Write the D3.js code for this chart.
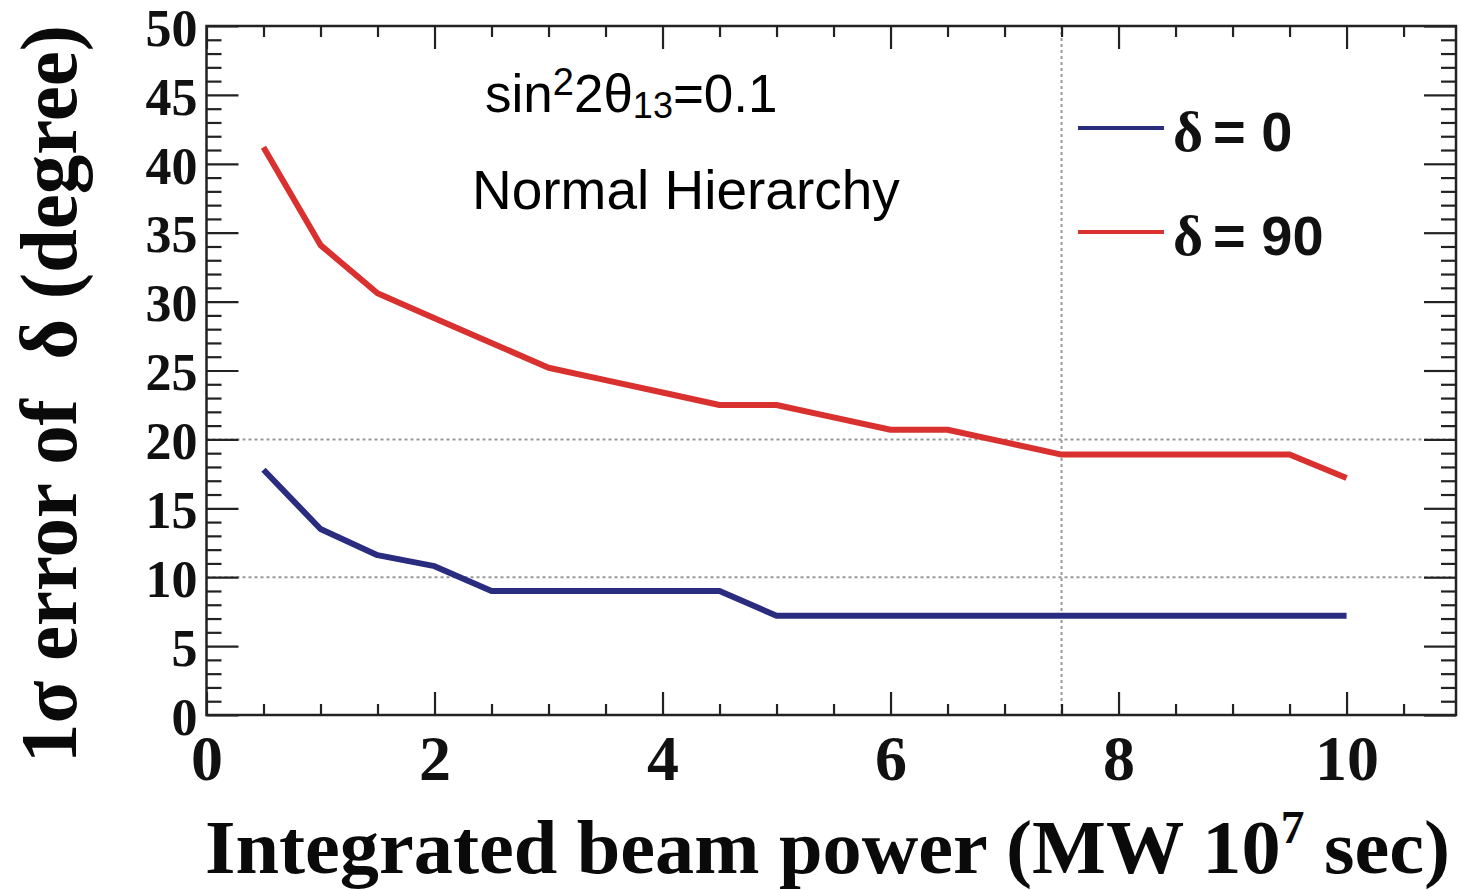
<!DOCTYPE html>
<html>
<head>
<meta charset="utf-8">
<script src="https://cdn.jsdelivr.net/npm/d3@7"></script>
<style>
  body { margin: 0; background: #fff; }
  .tick-label { font-family: "Liberation Serif", "Times New Roman", serif; font-weight: bold; fill: #111; }
  .grid { stroke: #9a9a9a; stroke-width: 2; stroke-dasharray: 3,3; }
</style>
</head>
<body>
<div id="chart"></div>
<script>
// beam power (MW 10^7 sec)
const power = [0.5, 1, 1.5, 2, 2.5, 3, 3.5, 4, 4.5, 5, 5.5, 6, 6.5, 7, 7.5, 8, 8.5, 9, 9.5, 10];
// 1 sigma error of delta (degree)
const errDelta0 = [17.8, 13.5, 11.6, 10.8, 9.0, 9.0, 9.0, 9.0, 9.0, 7.2, 7.2, 7.2, 7.2, 7.2, 7.2, 7.2, 7.2, 7.2, 7.2, 7.2];
const errDelta90 = [41.2, 34.1, 30.6, 28.8, 27.0, 25.2, 24.3, 23.4, 22.5, 22.5, 21.6, 20.7, 20.7, 19.8, 18.9, 18.9, 18.9, 18.9, 18.9, 17.2];

const seriesNames = ["0", "90"];
const seriesColors = ["#2a2c80", "#d8312f"];
const yMajorTicks = d3.range(0, 51, 5);
const xMajorTicks = [0, 2, 4, 6, 8, 10];

const W = 1461, H = 890;
const margin = { top: 26, right: 5, bottom: 175, left: 206.5 };
const width = W - margin.left - margin.right;
const height = H - margin.top - margin.bottom;

const svg = d3.select("#chart").append("svg")
  .attr("width", W)
  .attr("height", H);

const g = svg.append("g")
  .attr("transform", `translate(${margin.left},${margin.top})`);

const x = d3.scaleLinear().domain([0, 10.96]).range([0, width]);
const y = d3.scaleLinear().domain([0, 50]).range([height, 0]);

// dotted grid lines
[10, 20].forEach((v) => {
  g.append("line").attr("class", "grid")
    .attr("x1", 0).attr("x2", width)
    .attr("y1", y(v)).attr("y2", y(v));
});
g.append("line").attr("class", "grid")
  .attr("x1", x(7.5)).attr("x2", x(7.5))
  .attr("y1", 0).attr("y2", height);

// minor ticks
const yMinor = d3.range(0, 51, 1).filter((v) => v % 5 !== 0);
const xMinor = d3.range(0, 11, 0.5).filter((v) => v % 2 !== 0);

function styleAxis(sel) {
  sel.select(".domain").remove();
  sel.selectAll(".tick line").attr("stroke", "#222").attr("stroke-width", 2.2);
}

g.append("g").call(d3.axisLeft(y).tickValues(yMinor).tickSize(-15).tickFormat("")).call(styleAxis);
g.append("g").attr("transform", `translate(${width},0)`)
  .call(d3.axisRight(y).tickValues(yMinor).tickSize(-15).tickFormat("")).call(styleAxis);
g.append("g").attr("transform", `translate(0,${height})`)
  .call(d3.axisBottom(x).tickValues(xMinor).tickSize(-11).tickFormat("")).call(styleAxis);
g.append("g")
  .call(d3.axisTop(x).tickValues(xMinor).tickSize(-11).tickFormat("")).call(styleAxis);

// major ticks
const yAxis = g.append("g")
  .call(d3.axisLeft(y).tickValues(yMajorTicks).tickSize(-32).tickPadding(9))
  .call(styleAxis);
yAxis.selectAll("text").attr("class", "tick-label")
  .attr("dy", "0.37em")
  .style("font-size", "52px");

g.append("g").attr("transform", `translate(${width},0)`)
  .call(d3.axisRight(y).tickValues(yMajorTicks).tickSize(-32).tickFormat(""))
  .call(styleAxis);

const xAxis = g.append("g").attr("transform", `translate(0,${height})`)
  .call(d3.axisBottom(x).tickValues(xMajorTicks).tickSize(-23).tickPadding(20))
  .call(styleAxis);
xAxis.selectAll("text").attr("class", "tick-label").style("font-size", "64px");

g.append("g")
  .call(d3.axisTop(x).tickValues(xMajorTicks).tickSize(-23).tickFormat(""))
  .call(styleAxis);

// frame
g.append("rect")
  .attr("width", width).attr("height", height)
  .attr("fill", "none").attr("stroke", "#222").attr("stroke-width", 2.5);

// curves
const line = d3.line().x((d) => x(d[0])).y((d) => y(d[1]));
[errDelta0, errDelta90].forEach((vals, i) => {
  g.append("path")
    .datum(power.map((p, j) => [p, vals[j]]))
    .attr("d", line)
    .attr("fill", "none")
    .attr("stroke", seriesColors[i])
    .attr("stroke-width", 6)
    .attr("stroke-linejoin", "round");
});

// legend
const legend = svg.append("g");
seriesNames.forEach((name, i) => {
  const ly = 128 + i * 104;
  legend.append("line")
    .attr("x1", 1078).attr("x2", 1164)
    .attr("y1", ly).attr("y2", ly)
    .attr("stroke", seriesColors[i]).attr("stroke-width", 4);
  const t = legend.append("text")
    .attr("x", 1173).attr("y", ly + 23)
    .style("fill", "#111");
  t.append("tspan")
    .style("font-family", "'Liberation Serif', serif")
    .style("font-weight", "bold")
    .style("font-size", "58px")
    .text("δ");
  t.append("tspan")
    .style("font-family", "'Liberation Sans', Arial, sans-serif")
    .style("font-weight", "bold")
    .style("font-size", "56px")
    .text("= " + name)
    .attr("dx", 10);
});

// annotations
const ann = svg.append("text")
  .attr("x", 485).attr("y", 112)
  .style("font-family", "'Liberation Sans', Arial, sans-serif")
  .style("font-size", "53px")
  .style("fill", "#000");
ann.append("tspan").text("sin");
ann.append("tspan").attr("dy", -17).style("font-size", "38px").text("2");
ann.append("tspan").attr("dy", 17).text("2θ");
ann.append("tspan").attr("dy", 6).style("font-size", "36px").text("13");
ann.append("tspan").attr("dy", -6).text("=0.1");

svg.append("text")
  .attr("x", 472).attr("y", 209)
  .style("font-family", "'Liberation Sans', Arial, sans-serif")
  .style("font-size", "55px")
  .style("fill", "#000")
  .text("Normal Hierarchy");

// axis titles
const xTitle = svg.append("text")
  .attr("x", 205).attr("y", 873)
  .attr("textLength", 1245)
  .attr("lengthAdjust", "spacingAndGlyphs")
  .style("font-family", "'Liberation Serif', 'Times New Roman', serif")
  .style("font-weight", "bold")
  .style("font-size", "76px")
  .style("fill", "#0a0a0a");
xTitle.append("tspan").text("Integrated beam power (MW 10");
xTitle.append("tspan").attr("dy", -30).style("font-size", "46px").text("7");
xTitle.append("tspan").attr("dy", 30).text(" sec)");

svg.append("text")
  .attr("transform", "translate(76,394) rotate(-90)")
  .attr("text-anchor", "middle")
  .attr("textLength", 738)
  .attr("lengthAdjust", "spacingAndGlyphs")
  .style("font-family", "'Liberation Serif', 'Times New Roman', serif")
  .style("font-weight", "bold")
  .style("font-size", "80px")
  .style("fill", "#0a0a0a")
  .style("white-space", "pre")
  .text("1σ error of  δ (degree)");
</script>
</body>
</html>
